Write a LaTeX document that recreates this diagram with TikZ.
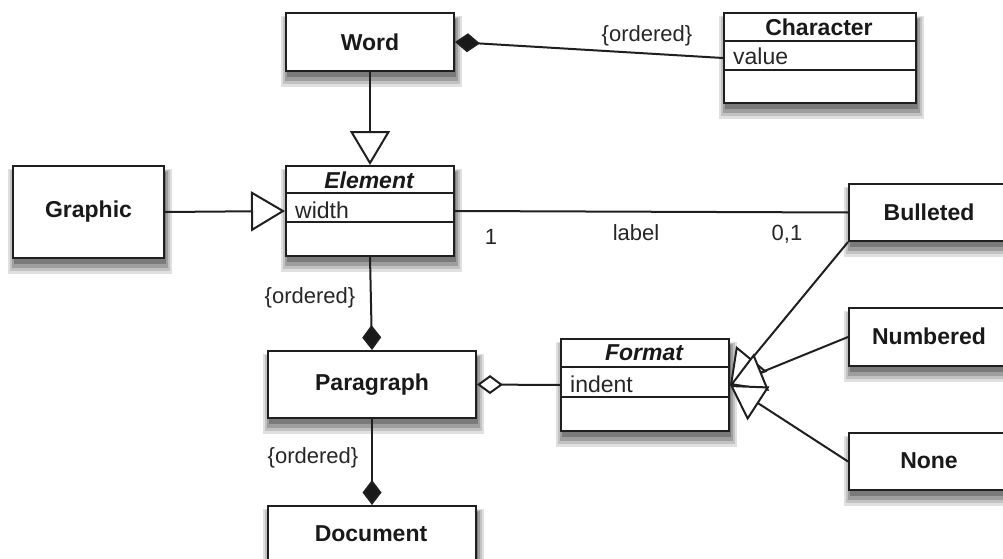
\documentclass[tikz,border=0pt]{standalone}
\usepackage{fontspec}
\setmainfont{Liberation Sans}
\usetikzlibrary{arrows.meta,calc}
\newcommand{\softshadow}[4]{%
  \fill[black!12] ({#1-4},{#2+4}) rectangle ({#1+#3+9},{#2+#4+17});
  \fill[black!24] ({#1-2},{#2+5}) rectangle ({#1+#3+7},{#2+#4+14});
  \fill[black!38] ({#1},{#2+6}) rectangle ({#1+#3+5},{#2+#4+11});
  \fill[black!52] ({#1+2},{#2+7}) rectangle ({#1+#3+3},{#2+#4+7});
}
\begin{document}
\begin{tikzpicture}[x=1pt,y=-1pt,
  box/.style={draw=black!88, line width=2pt, fill=white, inner sep=0pt, anchor=north west},
  cls/.style={font=\fontsize{23}{26}\selectfont\bfseries, text=black!90, inner sep=0pt},
  acls/.style={font=\fontsize{23}{26}\selectfont\bfseries\itshape, text=black!90, inner sep=0pt},
  attr/.style={font=\fontsize{23}{26}\selectfont, text=black!85, anchor=west, inner sep=0pt},
  lab/.style={font=\fontsize{22}{26}\selectfont, text=black!85, inner sep=0pt},
  sep/.style={draw=black!88, line width=2pt},
  conn/.style={draw=black!88, line width=2pt, line join=miter},
  gen/.style={conn, -{Triangle[length=34pt,width=40pt,fill=white]}},
  comp/.style={conn, -{Diamond[length=25pt,width=19pt,fill=black!90]}},
  compstart/.style={conn, {Diamond[length=25pt,width=19pt,fill=black!90]}-},
  aggstart/.style={conn, {Diamond[length=26pt,width=19pt,fill=white]}-}
]
\useasboundingbox (0,0) rectangle (1003,559);

% shadows
\softshadow{285}{12}{168}{58}
\softshadow{12}{165}{151}{92}
\softshadow{848}{183}{162}{57}
\softshadow{848}{307}{162}{58}
\softshadow{848}{432}{162}{57}
\softshadow{267}{350}{208}{67}
\softshadow{267}{505}{208}{62}
\softshadow{723}{12}{192}{90}
\softshadow{285}{165}{168}{90}
\softshadow{560}{338}{168}{92}

% simple classes
\node[box, minimum width=168pt, minimum height=58pt] (word) at (285,12) {};
\node[cls] (wordt) at (word.center) {Word};
\node[box, minimum width=151pt, minimum height=92pt] (graphic) at (12,165) {};
\node[cls] (graphict) at (graphic.center) {Graphic};
\node[box, minimum width=162pt, minimum height=57pt] (bul) at (848,183) {};
\node[cls] (bult) at (929,212) {Bulleted};
\node[box, minimum width=162pt, minimum height=58pt] (num) at (848,307) {};
\node[cls] (numt) at (929,336) {Numbered};
\node[box, minimum width=162pt, minimum height=57pt] (none) at (848,432) {};
\node[cls] (nonet) at (929,461) {None};
\node[box, minimum width=208pt, minimum height=67pt] (para) at (267,350) {};
\node[cls] (parat) at (para.center) {Paragraph};
\node[box, minimum width=208pt, minimum height=62pt] (doc) at (267,505) {};
\node[cls] (doct) at (371,534) {Document};

% Character class
\node[box, minimum width=192pt, minimum height=90pt] (char) at (723,12) {};
\node[cls] (chart) at (819,27) {Character};
\node[attr] (charv) at (733,56) {value};
\draw[sep] ($(char.north west)+(0,29)$) -- ($(char.north east)+(0,29)$);
\draw[sep] ($(char.north west)+(0,58)$) -- ($(char.north east)+(0,58)$);

% Element class
\node[box, minimum width=168pt, minimum height=90pt] (elem) at (285,165) {};
\node[acls] (elemt) at (369,180) {Element};
\node[attr] (elemw) at (295,210) {width};
\draw[sep] ($(elem.north west)+(0,28)$) -- ($(elem.north east)+(0,28)$);
\draw[sep] ($(elem.north west)+(0,57)$) -- ($(elem.north east)+(0,57)$);

% Format class
\node[box, minimum width=168pt, minimum height=92pt] (fmt) at (560,338) {};
\node[acls] (fmtt) at (644,353) {Format};
\node[attr] (fmti) at (570,384) {indent};
\draw[sep] ($(fmt.north west)+(0,29)$) -- ($(fmt.north east)+(0,29)$);
\draw[sep] ($(fmt.north west)+(0,59)$) -- ($(fmt.north east)+(0,59)$);

% connectors
\draw[compstart] (word.east) -- (char.west);
\node[lab] (ord1) at (647,36) {\{ordered\}};

\draw[gen] (word.south) -- (elem.north);
\draw[gen] (graphic.east) -- (elem.west);

\draw[conn] (elem.east) -- (bul.west);
\node[lab] (m1) at (491,237) {1};
\node[lab] (mlabel) at (636,233) {label};
\node[lab] (m01) at (787,234) {0,1};

\draw[comp] (elem.south) -- (para.north);
\node[lab] (ord2) at (310,298) {\{ordered\}};

\draw[aggstart] (para.east) -- (fmt.west);

\draw[comp] (para.south) -- (doc.north);
\node[lab] (ord3) at (313,458) {\{ordered\}};

\draw[gen] (bul.south west) -- (fmt.east);
\draw[gen] (num.west) -- (fmt.east);
\draw[gen] (none.west) -- (fmt.east);
\end{tikzpicture}
\end{document}
